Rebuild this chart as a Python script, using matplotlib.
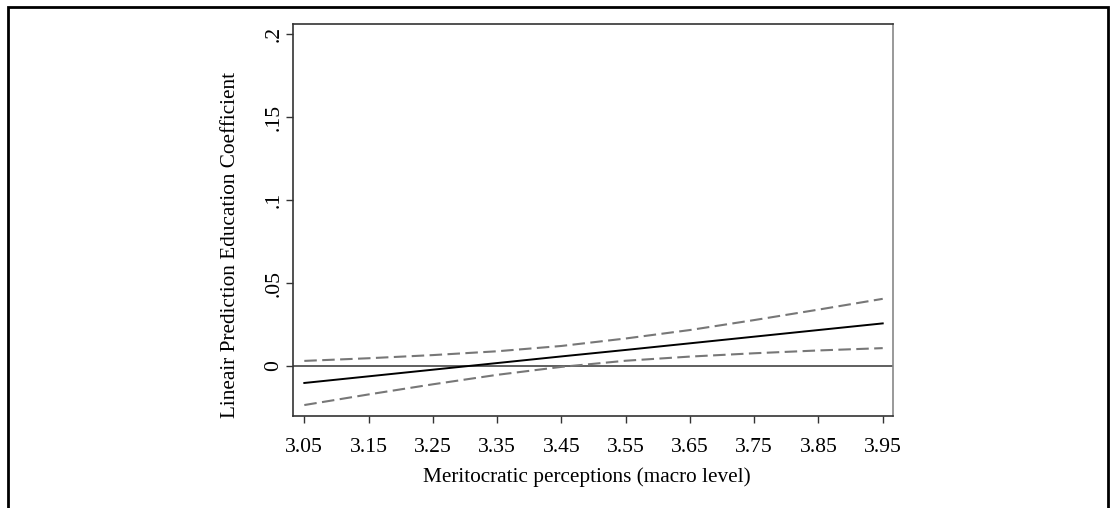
import matplotlib
matplotlib.use("Agg")
import matplotlib.pyplot as plt
from matplotlib.patches import Rectangle

# Data
x_vals = [3.05, 3.15, 3.25, 3.35, 3.45, 3.55, 3.65, 3.75, 3.85, 3.95]
pred = [-0.0102, -0.0062, -0.0022, 0.0018, 0.0058, 0.0097, 0.0137, 0.0177, 0.0217, 0.0257]
upper = [0.0031, 0.0047, 0.0066, 0.0089, 0.0121, 0.0166, 0.0217, 0.0277, 0.0340, 0.0405]
lower = [-0.0235, -0.0171, -0.0110, -0.0053, -0.0005, 0.0032, 0.0057, 0.0077, 0.0094, 0.0108]
x_ticks = [3.05, 3.15, 3.25, 3.35, 3.45, 3.55, 3.65, 3.75, 3.85, 3.95]
x_ticklabels = ["3.05", "3.15", "3.25", "3.35", "3.45", "3.55", "3.65", "3.75", "3.85", "3.95"]
y_ticks = [0, 0.05, 0.1, 0.15, 0.2]
y_ticklabels = ["0", ".05", ".1", ".15", ".2"]

plt.rcParams['font.family'] = ['Liberation Serif', 'DejaVu Serif']

W, H = 1113, 508
fig = plt.figure(figsize=(W / 100, H / 100), dpi=100)
fig.patch.set_facecolor('white')

# outer frame
frame = Rectangle((8 / W, -0.1), (1108 - 8) / W, (H - 7) / H + 0.1,
                  transform=fig.transFigure, fill=False, edgecolor='black',
                  linewidth=2.0, clip_on=False)
fig.patches.append(frame)

ax = fig.add_axes([293 / W, (H - 416) / H, (893 - 293) / W, (416 - 24) / H])

ax.axhline(0, color='#444444', lw=1.2, zorder=1)
ax.plot(x_vals, upper, color='#777777', lw=1.5, linestyle=(0, (6, 2.6)), zorder=2)
ax.plot(x_vals, lower, color='#777777', lw=1.5, linestyle=(0, (6, 2.6)), zorder=2)
ax.plot(x_vals, pred, color='black', lw=1.4, zorder=3)

ax.set_xlim(3.0324, 3.966)
ax.set_ylim(-0.0301, 0.2061)

ax.set_xticks(x_ticks)
ax.set_xticklabels(x_ticklabels, fontsize=15.6)
ax.set_yticks(y_ticks)
ax.set_yticklabels(y_ticklabels, fontsize=15.6, rotation=90, va='center')

ax.tick_params(axis='both', direction='out', length=5, width=1.0, color='#333333')
ax.tick_params(axis='x', pad=11)
ax.tick_params(axis='y', pad=2)

for side in ['left', 'bottom', 'top']:
    ax.spines[side].set_color('#333333')
    ax.spines[side].set_linewidth(1.2)
ax.spines['right'].set_color('#888888')
ax.spines['right'].set_linewidth(1.2)

ax.set_xlabel("Meritocratic perceptions (macro level)", fontsize=15.3)
ax.set_ylabel("Lineair Prediction Education Coefficient", fontsize=15.3)
ax.yaxis.set_label_coords(-0.088, 0.436)
ax.xaxis.set_label_coords(0.49, -0.13)

fig.savefig("out.png", dpi=100)
